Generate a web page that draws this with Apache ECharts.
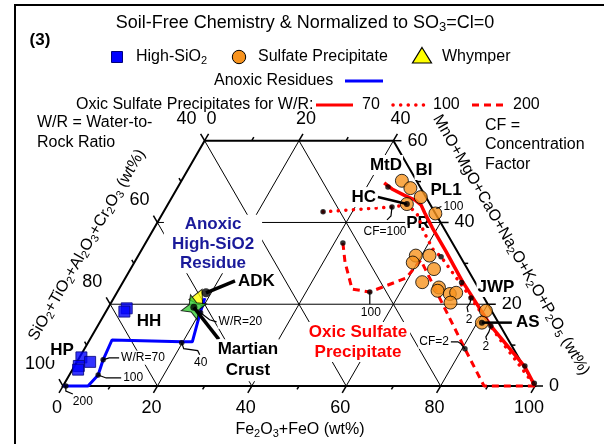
<!DOCTYPE html>
<html>
<head>
<meta charset="utf-8">
<script src="https://cdn.jsdelivr.net/npm/echarts@6/dist/echarts.min.js"></script>
<style>
html,body{margin:0;padding:0;background:#fff;}
#chart{width:604px;height:444px;}
</style>
</head>
<body>
<div id="chart"></div>
<script>
// ---------- DATA (each point = [Fe2O3+FeO wt%, MnO+MgO+CaO+Na2O+K2O+P2O5 wt%]; SiO2 group = rest) ----------
const hhSquares = [[4.0,19.0],[3.9,18.2]];
const hpSquares = [[0.4,7.0],[2.8,5.9],[0.9,4.9],[1.2,4.0]];
const sulfateUpper = [[46.7,50.2],[49.4,48.4],[52.7,46.2],[50.6,44.5],[57.8,42.2]];
const sulfateLower = [[58.8,31.9],[61.7,31.9],[59.0,30.2],[64.3,28.6],[63.4,25.4],[67.6,24.1],[67.7,23.3],[70.7,22.5],[71.9,22.8],[71.9,20.4]];
const sulfateJWP = [[80.4,18.4]];
const sulfateAS = [[81.0,15.5]];
const whymper = [[17.8,22.0]];
const martianCrust = [[18.1,19.25]];
const adk = [[18.9,22.8]];
const anoxicPath = [[0,0],[5.3,0],[6.1,2.7],[5.3,6.4],[4.75,11.25],[19.8,10.8],[22.0,10.8],[20.1,17.9],[19.3,21.5]];
const anoxicMarks = [[0.6,0],[6.1,2.7],[5.3,6.4],[19.85,10.6],[20.2,17.9]];
const oxic70 = [[43.2,49.7],[45.6,48.2],[48.9,46.7],[51.8,45.5],[53.7,44.3],[55.5,42.3],[58.9,38.7],[64.8,32.8],[71.7,25.7],[83.3,14.7],[95.6,4.6],[100,0]];
const oxic70Marks = [[44.5,48.7],[71.8,25.3],[83.3,14.7],[95.4,4.9],[99.5,0.7]];
const oxic100 = [[33.8,42.6],[47.8,43.8],[50.7,44.3],[53.8,42.3],[57.6,37.7],[61.8,33.3],[64.3,31.6],[75.7,21.5],[87.0,11.3],[100,0]];
const oxic100Marks = [[33.8,42.6],[47.8,43.8],[64.3,31.6],[75.7,21.5]];
const oxic200 = [[41.8,35.0],[44.6,30.3],[49.4,23.7],[53.5,23.0],[59.5,26.4],[60.4,30.8],[80.6,9.1],[89.2,0],[100,0]];
const oxic200Marks = [[41.8,35.0],[53.5,23.0],[80.6,9.1]];

// axis ticks
const gridSteps = [20,40,60,80];
const bottomTicks = [0,20,40,60,80,100];   // Fe2O3+FeO
const leftTicks = [100,80,60,40];          // SiO2+TiO2+Al2O3+Cr2O3
const rightTicks = [0,20,40,60];           // MnO+MgO+...
const topTicks = [0,20,40];                // Fe2O3+FeO along truncated top
const bottomMinor = [10,30,50,70,90];
const leftMinor = [90,70,50];
const rightMinor = [10,30,50];
const topMinor = [10,30];
const MN_TOP = 60;

// ---------- helpers ----------
const SQ = Math.sqrt(3)/2;
const toXY = p => [p[0] + p[1]/2, p[1]*SQ];
const FONT = "'Liberation Sans', Arial, Helvetica, sans-serif";
const ORANGE = '#f7931e', BLUE = '#0000ff', RED = '#ff0000';

function textStyle(text, o) {
  o = o || {};
  const fs = o.fs || 16, col = o.color || '#000', fw = o.bold ? 'bold' : 'normal';
  const st = {
    text, fontSize: fs, fontFamily: FONT, fontWeight: fw, fill: col,
    align: o.align || 'left', verticalAlign: 'middle',
    lineHeight: o.lh || Math.round(fs*1.2),
    rich: { s: { fontSize: Math.round(fs*0.7), lineHeight: Math.round(fs*0.5), verticalAlign: 'bottom', fontFamily: FONT, fontWeight: fw, fill: col } }
  };
  if (o.bg) { st.backgroundColor = o.bg; st.padding = o.pad || [0,2]; }
  return st;
}
const tEl = (x, y, text, o) => ({type:'text', x, y, rotation:(o && o.rot) || 0, style:textStyle(text, o)});

// ---------- trapezoid frame, grid, ticks through the cartesian scale ----------
function renderFrame(params, api) {
  const P = (fe, mn) => api.coord([fe + mn/2, mn*SQ]);
  const ch = [];
  const seg = (a, b, w) => ch.push({type:'line', shape:{x1:a[0],y1:a[1],x2:b[0],y2:b[1]}, style:{stroke:'#000', lineWidth:w}});
  gridSteps.forEach(v => {
    if (v < MN_TOP) seg(P(0, v), P(100 - v, v), 1);
    seg(P(v, 0), P(v, Math.min(MN_TOP, 100 - v)), 1);
    const s = 100 - v, m = Math.min(MN_TOP, s);
    seg(P(s, 0), P(s - m, m), 1);
  });
  ch.push({type:'polygon', shape:{points:[P(0,0), P(100,0), P(100-MN_TOP, MN_TOP), P(0, MN_TOP)]}, style:{fill:'none', stroke:'#000', lineWidth:2}});
  const dB = [-0.5, SQ], dL = [-0.5, -SQ], dR = [1, 0], dT = [0.5, -SQ];
  const tick = (p, d, len) => seg(p, [p[0]+d[0]*len, p[1]+d[1]*len], 1.5);
  const lab = (p, t, dx, dy, align) => ch.push({type:'text', x:p[0]+dx, y:p[1]+dy, style:{text:String(t), fontSize:18, fontFamily:FONT, fill:'#000', align, verticalAlign:'middle'}});
  bottomTicks.forEach(v => { const p = P(v,0); tick(p, dB, 8); lab(p, v, -6, 22, 'center'); });
  bottomMinor.forEach(v => tick(P(v,0), dB, 4));
  leftTicks.forEach(v => { const p = P(0,100-v); tick(p, dL, 8); lab(p, v, -8, -22, 'right'); });
  leftMinor.forEach(v => tick(P(0,100-v), dL, 4));
  rightTicks.forEach(v => { const p = P(100-v, v); tick(p, dR, 8); lab(p, v, 14, 0, 'left'); });
  rightMinor.forEach(v => tick(P(100-v, v), dR, 4));
  topTicks.forEach(v => { const p = P(v, MN_TOP); tick(p, dT, 8); lab(p, v, 7, -22, 'center'); });
  topMinor.forEach(v => tick(P(v, MN_TOP), dT, 4));
  return {type:'group', children:ch};
}

// ---------- boxed region labels (under the data) ----------
const sampleNames = [['MtD',386,165],['BI',424,170],['PL1',446,190],['PR',418,223],['JWP',496,287],['HH',149,321],['HP',62,350]];
function renderRegions(params, api) {
  const ch = [];
  ch.push(tEl(213, 244, 'Anoxic\nHigh-SiO2\nResidue', {fs:17, bold:true, color:'#1a1a9a', align:'center', lh:19.5, bg:'#fff', pad:[0,8]}));
  ch.push(tEl(358, 342, 'Oxic Sulfate\nPrecipitate', {fs:17, bold:true, color:RED, align:'center', lh:20, bg:'#fff', pad:[0,3]}));
  sampleNames.forEach(a => ch.push(tEl(a[1], a[2], a[0], {fs:17, bold:true, align:'center', bg:'#fff', pad:[0,1]})));
  return {type:'group', children:ch};
}

// ---------- page frame, title, legend, axis titles ----------
function renderPage(params, api) {
  const ch = [];
  ch.push({type:'polyline', shape:{points:[[15,444],[15,5],[604,5]]}, style:{stroke:'#000', fill:null, lineWidth:2}});
  ch.push(tEl(305, 23, 'Soil-Free Chemistry & Normalized to SO{s|3}=Cl=0', {fs:18, align:'center'}));
  ch.push(tEl(40, 40, '(3)', {fs:17, bold:true, align:'center'}));
  ch.push({type:'rect', shape:{x:111.5, y:51.5, width:11, height:11}, style:{fill:BLUE, stroke:'#00007a', lineWidth:1}});
  ch.push(tEl(136, 57, 'High-SiO{s|2}'));
  ch.push({type:'circle', shape:{cx:239, cy:57, r:6.7}, style:{fill:ORANGE, stroke:'#000', lineWidth:1}});
  ch.push(tEl(258, 57, 'Sulfate Precipitate'));
  ch.push({type:'polygon', shape:{points:[[422,47.5],[431.5,63],[412.5,63]]}, style:{fill:'#ffff00', stroke:'#000', lineWidth:1.2}});
  ch.push(tEl(442, 57, 'Whymper'));
  ch.push(tEl(214, 81, 'Anoxic Residues'));
  ch.push({type:'line', shape:{x1:345,y1:81,x2:383,y2:81}, style:{stroke:BLUE, lineWidth:3}});
  ch.push(tEl(76, 105, 'Oxic Sulfate Precipitates for W/R:'));
  ch.push({type:'line', shape:{x1:316,y1:105,x2:353,y2:105}, style:{stroke:RED, lineWidth:3}});
  ch.push(tEl(362, 105, '70'));
  ch.push({type:'line', shape:{x1:393,y1:105,x2:425,y2:105}, style:{stroke:RED, lineWidth:3.5, lineDash:[0.1,7.5], lineCap:'round'}});
  ch.push(tEl(433, 105, '100'));
  ch.push({type:'line', shape:{x1:472,y1:105,x2:506,y2:105}, style:{stroke:RED, lineWidth:3, lineDash:[7,5]}});
  ch.push(tEl(513, 105, '200'));
  ch.push(tEl(37, 133, 'W/R = Water-to-\nRock Ratio', {lh:20}));
  ch.push(tEl(485, 145, 'CF =\nConcentration\nFactor', {lh:19.5}));
  ch.push(tEl(300, 430, 'Fe{s|2}O{s|3}+FeO (wt%)', {align:'center'}));
  ch.push(tEl(87, 245, 'SiO{s|2}+TiO{s|2}+Al{s|2}O{s|3}+Cr{s|2}O{s|3} (wt%)', {align:'center', rot:Math.PI/3}));
  ch.push(tEl(511, 245, 'MnO+MgO+CaO+Na{s|2}O+K{s|2}O+P{s|2}O{s|5} (wt%)', {align:'center', rot:-Math.PI/3}));
  return {type:'group', children:ch};
}

// ---------- leader-line annotations anchored on data points ----------
const notes = [
  {at: anoxicMarks[0], path:[[0,0],[0,5],[7,8]], text:'200', tx:6, ty:16},
  {at: anoxicMarks[1], path:[[0,0],[8,3],[23,3]], text:'100', tx:24, ty:3},
  {at: anoxicMarks[2], path:[[0,0],[6,-2],[16,-2]], text:'W/R=70', tx:17, ty:-2},
  {at: anoxicMarks[3], path:[[0,0],[2,6],[16,8],[18,12]], text:'40', tx:19, ty:20, align:'center'},
  {at: anoxicMarks[4], path:[[0,0],[9,7],[16,9]], text:'W/R=20', tx:17, ty:9},
  {at: adk[0], path:[[0,0],[29,-12]], lw:3.5, text:'ADK', tx:31, ty:-11, bold:true, fs:17},
  {at: martianCrust[0], path:[[0,0],[25,32]], lw:3.5, text:'Martian\nCrust', tx:54, ty:53, bold:true, fs:17, align:'center', lh:21},
  {at: sulfateUpper[3], path:[[-29,-7],[0,0]], lw:2.5, text:'HC', tx:-43, ty:-7, bold:true, fs:17, align:'center'},
  {at: sulfateAS[0], path:[[0,0],[30,0]], lw:2.5, text:'AS', tx:33, ty:0, bold:true, fs:17},
  {at: oxic100Marks[1], path:[[0,0],[-1,9],[-5,13]], text:'CF=100', tx:-7, ty:25, align:'center'},
  {at: sulfateUpper[4], path:[[1,-5],[6,-7]], text:'100', tx:7, ty:-7},
  {at: oxic100Marks[3], path:[[0,0],[-1,5],[-4,9],[-3,14]], text:'2', tx:-2, ty:22, align:'center'},
  {at: oxic70Marks[2], path:[[0,0],[-2,6],[-5,11],[-4,15]], text:'2', tx:-5, ty:21, align:'center'},
  {at: oxic200Marks[2], path:[[0,0],[-4,-5],[-7,-7],[-14,-7]], text:'CF=2', tx:-15, ty:-7, align:'right'},
  {at: oxic200Marks[1], path:[[0,0],[0,12]], text:'100', tx:1, ty:21, align:'center'}
];
function renderNote(params, api) {
  const n = notes[params.dataIndex];
  const p = api.coord(toXY(n.at));
  const ch = [];
  ch.push({type:'polyline', shape:{points:n.path.map(o => [p[0]+o[0], p[1]+o[1]])}, style:{stroke:'#000', fill:null, lineWidth:n.lw || 1.2}});
  const fs = n.fs || 12, fw = n.bold ? 'bold' : 'normal';
  ch.push({type:'text', x:p[0]+n.tx, y:p[1]+n.ty, style:{text:n.text, fontSize:fs, fontFamily:FONT, fontWeight:fw, fill:'#000', align:n.align || 'left', verticalAlign:'middle', backgroundColor:'#fff', padding:[0,1], lineHeight:n.lh || Math.round(fs*1.2)}});
  return {type:'group', children:ch};
}

const starPath = 'path://M12,0 L15.5,8.5 L24,12 L15.5,15.5 L12,24 L8.5,15.5 L0,12 L8.5,8.5 Z';
const base = {clip:false, silent:true, animation:false};
const lineS = (data, ls) => Object.assign({type:'line', data:data.map(toXY), symbol:'none', lineStyle:ls, z:3}, base);
const dotS = (data, sym, size, st, extra) => Object.assign({type:'scatter', data:data.map(toXY), symbol:sym, symbolSize:size, itemStyle:st, z:4}, base, extra || {});

const option = {
  animation: false,
  grid: {left:63, right:69, top:140.7, bottom:58},
  xAxis: {type:'value', min:0, max:100, show:false},
  yAxis: {type:'value', min:0, max:MN_TOP*SQ, show:false},
  series: [
    Object.assign({type:'custom', data:[[50,25]], renderItem:renderFrame, z:1}, base),
    Object.assign({type:'custom', data:[[50,25]], renderItem:renderRegions, z:2}, base),
    lineS(oxic200, {color:RED, width:3, type:[7,5]}),
    lineS(oxic100, {color:RED, width:3.5, type:[0.1,7.5], cap:'round'}),
    lineS(oxic70, {color:RED, width:3.5}),
    lineS(anoxicPath, {color:BLUE, width:3}),
    dotS(sulfateUpper.concat(sulfateLower, sulfateJWP, sulfateAS), 'circle', 13, {color:ORANGE, borderColor:'#000', borderWidth:1}),
    dotS(hhSquares.concat(hpSquares), 'rect', 11, {color:BLUE, borderColor:'#00007a', borderWidth:1}),
    dotS(whymper, 'triangle', 15, {color:'#ffff00', borderColor:'#000', borderWidth:1}, {symbolRotate:-25}),
    dotS(martianCrust, starPath, 26, {color:'#33cc33', borderColor:'#000', borderWidth:1}, {symbolRotate:15}),
    dotS(anoxicMarks.concat(oxic70Marks, oxic100Marks, oxic200Marks), 'circle', 5.5, {color:'#000'}),
    dotS([sulfateUpper[3], sulfateAS[0]], 'circle', 6, {color:'#000'}),
    dotS(martianCrust, 'circle', 7, {color:'#000'}),
    dotS(adk, 'circle', 9, {color:'#000'}),
    Object.assign({type:'custom', data:notes.map(n => toXY(n.at)), renderItem:renderNote, z:5}, base),
    Object.assign({type:'custom', data:[[50,25]], renderItem:renderPage, z:6}, base)
  ]
};
const chart = echarts.init(document.getElementById('chart'));
chart.setOption(option);
</script>
</body>
</html>
